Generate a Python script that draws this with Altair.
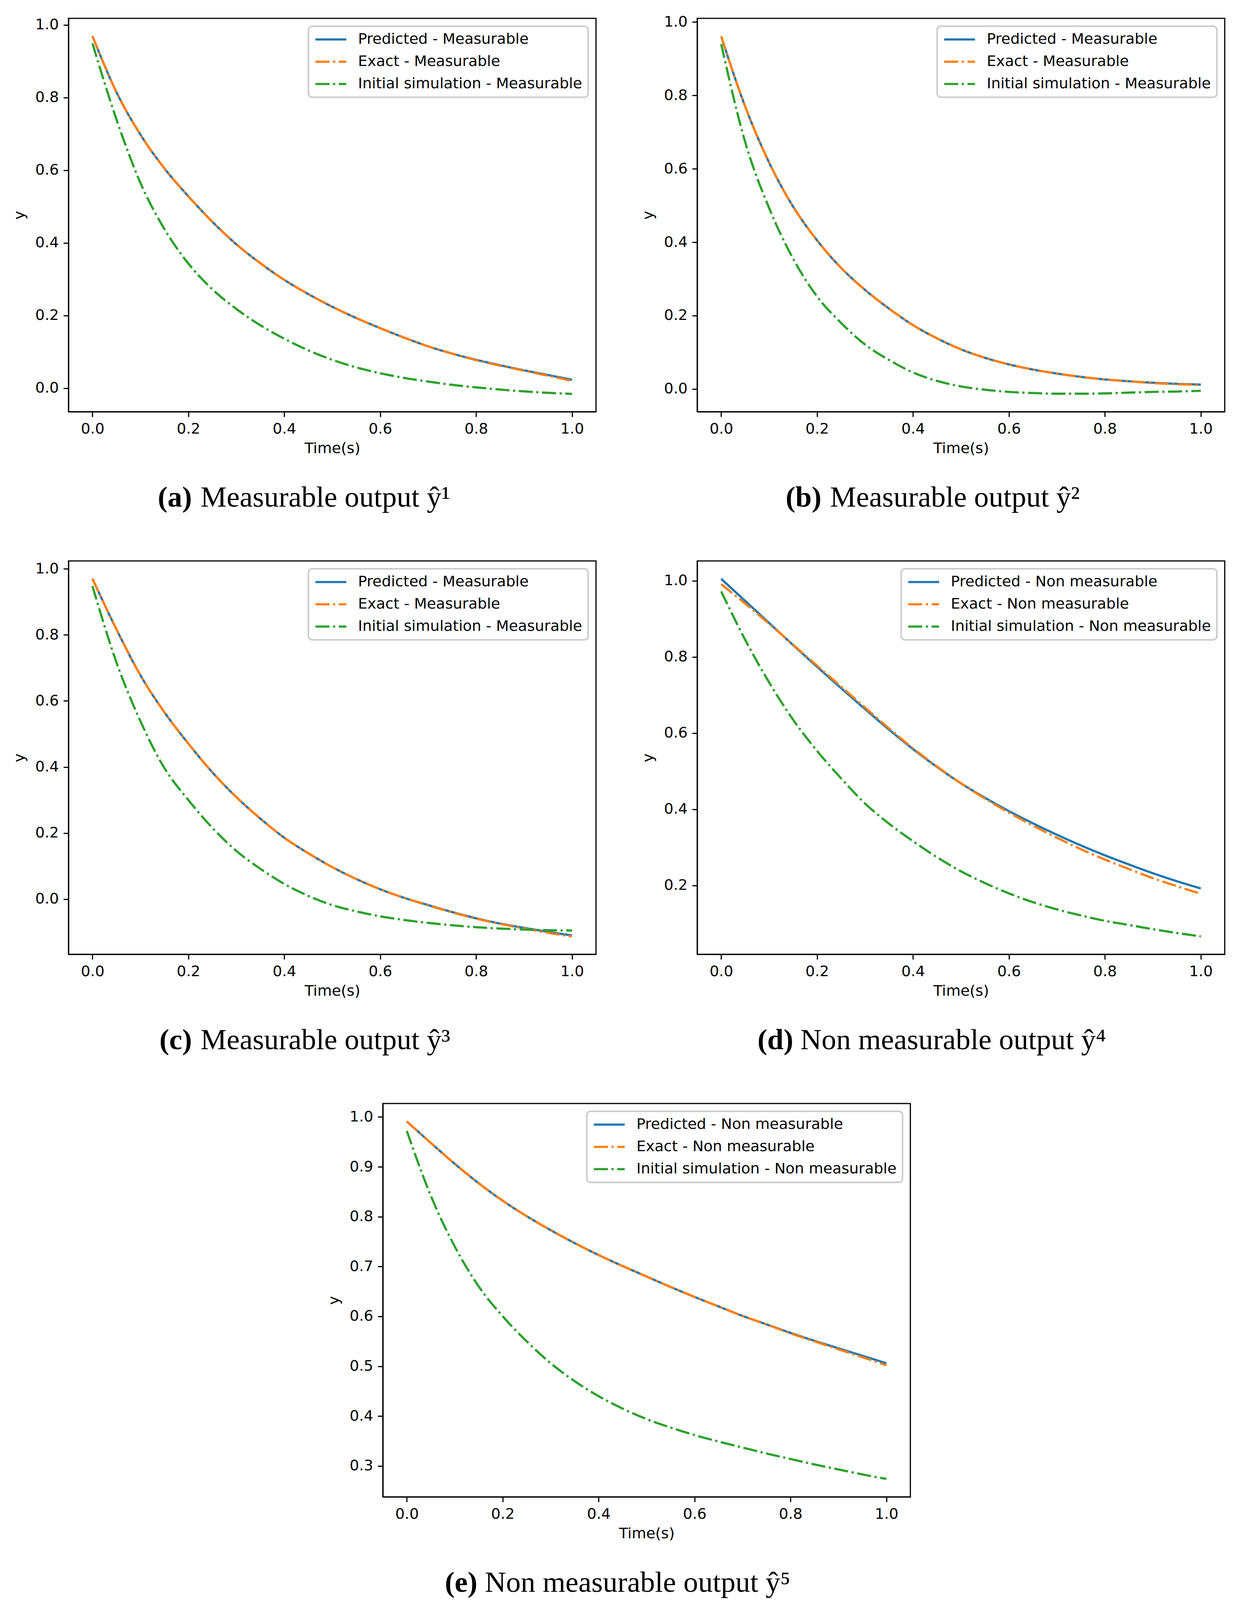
import altair as alt
import pandas as pd

# ---------------- data ----------------
t = [0.0, 0.05, 0.1, 0.15, 0.2, 0.25, 0.3, 0.35, 0.4, 0.45, 0.5,
     0.55, 0.6, 0.65, 0.7, 0.75, 0.8, 0.85, 0.9, 0.95, 1.0]

# (a) measurable output 1
a_pred  = [0.969, 0.815, 0.698, 0.605, 0.528, 0.458, 0.396, 0.344, 0.298, 0.259, 0.224,
           0.193, 0.165, 0.139, 0.115, 0.095, 0.078, 0.063, 0.049, 0.036, 0.023]
a_exact = [0.969, 0.815, 0.698, 0.605, 0.528, 0.458, 0.396, 0.344, 0.298, 0.259, 0.224,
           0.193, 0.165, 0.139, 0.115, 0.095, 0.077, 0.062, 0.048, 0.034, 0.020]
a_init  = [0.949, 0.740, 0.565, 0.438, 0.343, 0.272, 0.218, 0.173, 0.136, 0.104, 0.078,
           0.057, 0.041, 0.028, 0.018, 0.009, 0.002, -0.004, -0.009, -0.013, -0.016]

# (b) measurable output 2
b_pred  = [0.961, 0.770, 0.617, 0.497, 0.405, 0.330, 0.270, 0.219, 0.174, 0.138, 0.108,
           0.085, 0.067, 0.053, 0.042, 0.033, 0.026, 0.021, 0.017, 0.014, 0.012]
b_exact = [0.961, 0.770, 0.617, 0.497, 0.405, 0.330, 0.270, 0.219, 0.174, 0.138, 0.108,
           0.085, 0.067, 0.053, 0.042, 0.033, 0.026, 0.021, 0.016, 0.013, 0.011]
b_init  = [0.940, 0.673, 0.493, 0.355, 0.252, 0.180, 0.121, 0.079, 0.045, 0.022, 0.007,
           -0.002, -0.008, -0.011, -0.013, -0.013, -0.012, -0.010, -0.008, -0.007, -0.005]

# (c) measurable output 3
c_pred  = [0.970, 0.817, 0.678, 0.566, 0.471, 0.384, 0.309, 0.244, 0.186, 0.139, 0.097,
           0.061, 0.030, 0.004, -0.018, -0.039, -0.058, -0.074, -0.087, -0.099, -0.110]
c_exact = [0.970, 0.817, 0.678, 0.566, 0.471, 0.384, 0.309, 0.244, 0.186, 0.139, 0.097,
           0.061, 0.030, 0.004, -0.019, -0.040, -0.059, -0.075, -0.089, -0.102, -0.113]
c_init  = [0.948, 0.717, 0.539, 0.397, 0.300, 0.216, 0.146, 0.092, 0.046, 0.010, -0.018,
           -0.037, -0.052, -0.063, -0.072, -0.079, -0.085, -0.089, -0.092, -0.094, -0.095]

# (d) non measurable output 4
d_pred  = [1.005, 0.947, 0.889, 0.831, 0.774, 0.718, 0.663, 0.609, 0.558, 0.511, 0.468,
           0.430, 0.395, 0.363, 0.333, 0.305, 0.279, 0.255, 0.232, 0.211, 0.192]
d_exact = [0.991, 0.940, 0.887, 0.832, 0.777, 0.722, 0.667, 0.612, 0.560, 0.512, 0.468,
           0.428, 0.391, 0.357, 0.325, 0.295, 0.268, 0.243, 0.219, 0.198, 0.178]
d_init  = [0.972, 0.845, 0.733, 0.635, 0.553, 0.481, 0.415, 0.362, 0.316, 0.274, 0.237,
           0.206, 0.179, 0.156, 0.137, 0.121, 0.107, 0.096, 0.085, 0.075, 0.066]

# (e) non measurable output 5
e_pred  = [0.991, 0.948, 0.906, 0.867, 0.832, 0.801, 0.773, 0.747, 0.723, 0.701, 0.680,
           0.659, 0.639, 0.620, 0.601, 0.584, 0.567, 0.551, 0.536, 0.521, 0.506]
e_exact = [0.991, 0.948, 0.906, 0.867, 0.832, 0.801, 0.773, 0.747, 0.723, 0.701, 0.680,
           0.659, 0.639, 0.620, 0.601, 0.584, 0.566, 0.550, 0.534, 0.518, 0.502]
e_init  = [0.972, 0.842, 0.740, 0.660, 0.600, 0.550, 0.506, 0.470, 0.440, 0.415, 0.394,
           0.377, 0.362, 0.349, 0.337, 0.325, 0.314, 0.303, 0.293, 0.283, 0.274]

x_ticks = [0.0, 0.2, 0.4, 0.6, 0.8, 1.0]
y_ticks_std = [0.0, 0.2, 0.4, 0.6, 0.8, 1.0]
y_ticks_d = [0.2, 0.4, 0.6, 0.8, 1.0]
y_ticks_e = [0.3, 0.4, 0.5, 0.6, 0.7, 0.8, 0.9, 1.0]

captions = [
    ("(a)", "Measurable output ŷ¹"),
    ("(b)", "Measurable output ŷ²"),
    ("(c)", "Measurable output ŷ³"),
    ("(d)", "Non measurable output ŷ⁴"),
    ("(e)", "Non measurable output ŷ⁵"),
]

# ---------------- styling ----------------
COLORS = ["#1f77b4", "#ff7f0e", "#2ca02c"]
DASHES = [[1, 0], [36, 9, 5.7, 9], [36, 9, 5.7, 9]]
W, H = 1350, 1007
LW = 5.7
CAP_FONT = "Liberation Serif"
CAP_SIZE = 75
CAP_Y = 1250


def panel(pred, exact, init, kind, ydomain, yticks, cap, split, rest_x):
    names = [f"Predicted - {kind}", f"Exact - {kind}", f"Initial simulation - {kind}"]
    rows = []
    for name, vals in zip(names, [pred, exact, init]):
        for ti, v in zip(t, vals):
            rows.append({"t": ti, "y": v, "series": name})
    df = pd.DataFrame(rows)

    leg = alt.Legend(title=None, orient="top-right")
    color = alt.Color("series:N", scale=alt.Scale(domain=names, range=COLORS), legend=leg)
    dash = alt.StrokeDash("series:N", scale=alt.Scale(domain=names, range=DASHES), legend=leg)
    x = alt.X("t:Q",
              scale=alt.Scale(domain=[-0.05, 1.05], nice=False, zero=False),
              axis=alt.Axis(values=x_ticks, format=".1f", title="Time(s)"))
    y = alt.Y("y:Q",
              scale=alt.Scale(domain=ydomain, nice=False, zero=False),
              axis=alt.Axis(values=yticks, format=".1f", title="y"))

    layers = []
    for name in names:
        layers.append(
            alt.Chart(df)
            .transform_filter(alt.datum.series == name)
            .mark_line(strokeWidth=LW, interpolate="monotone")
            .encode(x=x, y=y, color=color, strokeDash=dash)
        )

    bold = (
        alt.Chart(pd.DataFrame({"c": [cap[0]]}))
        .mark_text(font=CAP_FONT, fontSize=CAP_SIZE, fontWeight="bold",
                   align="right", baseline="alphabetic", color="black")
        .encode(text="c:N", x=alt.value(split), y=alt.value(CAP_Y))
    )
    normal = (
        alt.Chart(pd.DataFrame({"c": [cap[1]]}))
        .mark_text(font=CAP_FONT, fontSize=CAP_SIZE, fontWeight="normal",
                   align="left", baseline="alphabetic", color="black")
        .encode(text="c:N", x=alt.value(rest_x), y=alt.value(CAP_Y))
    )
    return alt.layer(*layers, bold, normal).properties(width=W, height=H)


pa = panel(a_pred, a_exact, a_init, "Measurable", [-0.065, 1.018], y_ticks_std, captions[0], 316, 338)
pb = panel(b_pred, b_exact, b_init, "Measurable", [-0.062, 1.010], y_ticks_std, captions[1], 318, 340)
pc = panel(c_pred, c_exact, c_init, "Measurable", [-0.167, 1.024], y_ticks_std, captions[2], 316, 338)
pd_ = panel(d_pred, d_exact, d_init, "Non measurable", [0.019, 1.052], y_ticks_d, captions[3], 246, 264)
pe = panel(e_pred, e_exact, e_init, "Non measurable", [0.238, 1.027], y_ticks_e, captions[4], 242, 261)

row1 = alt.hconcat(pa, pb, spacing=112).resolve_scale(color="independent", strokeDash="independent")
row2 = alt.hconcat(pc, pd_, spacing=112).resolve_scale(color="independent", strokeDash="independent")

chart = (
    alt.vconcat(row1, row2, pe, spacing=120, center=True)
    .resolve_scale(color="independent", strokeDash="independent")
    .properties(padding={"left": 22, "top": 27, "right": 5, "bottom": 5})
    .configure(font="DejaVu Sans")
    .configure_view(stroke="black", strokeWidth=3)
    .configure_axis(
        labelFont="DejaVu Sans", labelFontSize=38, labelColor="black",
        titleFont="DejaVu Sans", titleFontSize=38, titleFontWeight="normal", titleColor="black",
        tickColor="black", tickSize=13, tickWidth=3,
        domainColor="black", domainWidth=3,
        labelPadding=12, grid=False, labelFlush=False,
    )
    .configure_axisX(titlePadding=12)
    .configure_axisY(titlePadding=20)
    .configure_legend(
        labelFont="DejaVu Sans", labelFontSize=38, labelColor="black", labelLimit=1200,
        symbolType="stroke", symbolSize=6241, symbolStrokeWidth=LW,
        clipHeight=38, rowPadding=19, labelOffset=27, padding=15,
        fillColor="white", strokeColor="#cccccc", strokeWidth=4, cornerRadius=10,
        offset=20,
    )
)

chart.save("out.html", embed_options={"renderer": "svg", "actions": False})
